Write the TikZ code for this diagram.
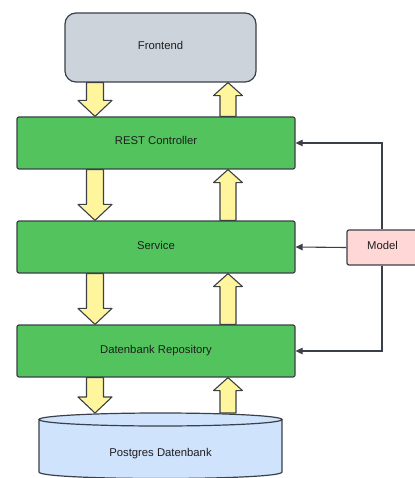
\documentclass[tikz,border=0pt]{standalone}
\usepackage{fontspec}
\setmainfont{Liberation Sans}
\usetikzlibrary{calc,arrows.meta}
\definecolor{edgegray}{HTML}{3B4048}
\definecolor{layergreen}{HTML}{53C35E}
\definecolor{frontgray}{HTML}{CDD3DB}
\definecolor{blockyellow}{HTML}{FFF59D}
\definecolor{modelpink}{HTML}{FFD7D7}
\definecolor{dbblue}{HTML}{CFE3FD}
\definecolor{textdark}{HTML}{1E1E1E}

% down-pointing block arrow from the bottom of #1 to the top of #2
\newcommand\blockdown[2]{%
  \draw[blk] let \p1=(dx |- #1), \p2=(dx |- #2) in
    (\x1-8.5pt,\y1) -- (\x1+8.5pt,\y1) -- (\x1+8.5pt,\y2+16pt) -- (\x1+17pt,\y2+16pt)
    -- (\x1,\y2) -- (\x1-17pt,\y2+16pt) -- (\x1-8.5pt,\y2+16pt) -- cycle;}
% up-pointing block arrow from the top of #1 to the bottom of #2
\newcommand\blockup[2]{%
  \draw[blk] let \p1=(ux |- #1), \p2=(ux |- #2) in
    (\x1-8pt,\y1) -- (\x1+8pt,\y1) -- (\x1+8pt,\y2-13pt) -- (\x1+14.5pt,\y2-13pt)
    -- (\x1,\y2) -- (\x1-14.5pt,\y2-13pt) -- (\x1-8pt,\y2-13pt) -- cycle;}

\begin{document}
\begin{tikzpicture}[x=1pt,y=-1pt,
  every node/.style={font=\fontsize{11.3}{13}\selectfont, text=textdark,
    text height=8pt, text depth=4pt},
  box/.style={draw=edgegray, line width=1.2pt, inner sep=0pt},
  layer/.style={box, fill=layergreen, minimum width=278pt, minimum height=52pt, rounded corners=2pt},
  frontbox/.style={box, fill=frontgray, minimum width=191pt, minimum height=69pt, rounded corners=11pt},
  modelbox/.style={box, fill=modelpink, minimum width=76pt, minimum height=35pt, rounded corners=2pt},
  blk/.style={draw=edgegray, line width=1.1pt, fill=blockyellow, line join=round},
  link/.style={draw=edgegray, line width=1.1pt, -{Triangle[length=7pt,width=6.5pt]}},
  dbline/.style={draw=edgegray, line width=1.2pt}
]
\useasboundingbox (0,0) rectangle (414,478);

% horizontal positions of the block arrows
\coordinate (dx) at (95,0);
\coordinate (ux) at (228,0);

% layers
\node[frontbox] (fe) at (160.5,47.5) {Frontend};
\node[layer] (rc) at (156,143) {REST Controller};
\node[layer] (sv) at (156,247) {Service};
\node[layer] (rp) at (156,351) {Datenbank Repository};
\node[modelbox, text width=71pt, align=center, xshift=2.5pt] (md) at (382.5,247.5) {\hspace*{-5pt}Model};

% database cylinder
\fill[dbblue] (39,419.5) -- (39,472) .. controls (39,480.67) and (282,480.67) .. (282,472) -- (282,419.5) -- cycle;
\draw[dbline] (39,419.5) -- (39,472) .. controls (39,480.67) and (282,480.67) .. (282,472) -- (282,419.5);
\filldraw[dbline, fill=dbblue] (160.5,419.5) ellipse [x radius=121.5, y radius=6.5];
\coordinate (dbtop) at (160.5,413);
\node (db) at (160.5,454.5) {Postgres Datenbank};

% requests going down, responses going up
\blockdown{fe.south}{rc.north}
\blockdown{rc.south}{sv.north}
\blockdown{sv.south}{rp.north}
\blockdown{rp.south}{dbtop}
\blockup{rc.north}{fe.south}
\blockup{sv.north}{rc.south}
\blockup{rp.north}{sv.south}
\blockup{dbtop}{rp.south}

% model used by every layer
\draw[link] (md.north -| 382,0) |- (rc.east);
\draw[link] (md.west) -- (sv.east);
\draw[link] (md.south -| 382,0) |- (rp.east);
\end{tikzpicture}
\end{document}
